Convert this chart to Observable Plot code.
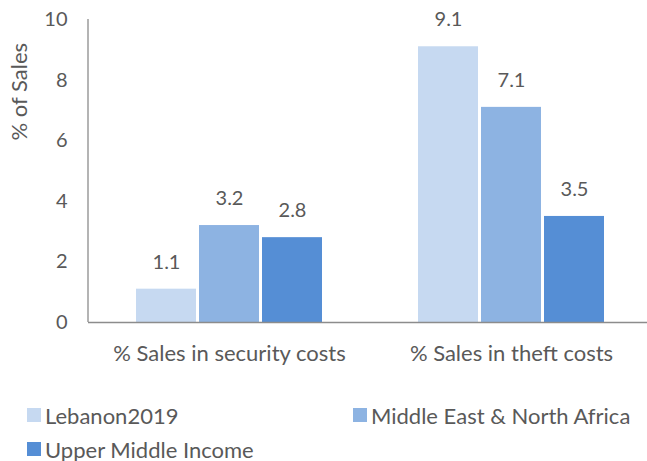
<!DOCTYPE html>
<html>
<head>
<meta charset="utf-8">
<script src="https://cdn.jsdelivr.net/npm/d3@7"></script>
<script src="https://cdn.jsdelivr.net/npm/@observablehq/plot@0.6"></script>
<style>
  body { margin: 0; background: #fff; font-family: Lato, "Open Sans", sans-serif; }
  #wrap { position: relative; width: 647px; height: 461px; overflow: hidden; }
  #legend { position: absolute; left: 0; top: 0; width: 647px; }
  .li { position: absolute; font-size: 22px; color: #595959; white-space: nowrap; display: flex; align-items: center; height: 14px; }
  .sw { width: 14px; height: 14px; margin-right: 4px; display: inline-block; flex: none; }
</style>
</head>
<body>
<div id="wrap"><div id="chart"></div><div id="legend"></div></div>
<script>
const categories = ["% Sales in security costs", "% Sales in theft costs"];
const series = ["Lebanon2019", "Middle East & North Africa", "Upper Middle Income"];
const lebanon = [1.1, 9.1];
const mena = [3.2, 7.1];
const umi = [2.8, 3.5];
const colors = ["#c6d9f1", "#8db3e2", "#558ed5"];
const yTicks = [0, 2, 4, 6, 8, 10];

const values = [lebanon, mena, umi];
const data = [];
categories.forEach((c, ci) => series.forEach((s, si) => data.push({cat: c, series: s, value: values[si][ci]})));

const chart = Plot.plot({
  width: 647,
  height: 380,
  marginLeft: 88,
  marginRight: -5,
  marginTop: 19,
  marginBottom: 58,
  style: {fontFamily: "Lato, 'Open Sans', sans-serif", fontSize: "20px", color: "#595959", background: "transparent"},
  fx: {domain: categories, padding: 0, label: null, axis: null},
  x: {domain: series, axis: null, paddingInner: 0.047, paddingOuter: 0.727},
  y: {domain: [0, 10], label: null},
  color: {domain: series, range: colors},
  marks: [
    Plot.axisY(yTicks, {tickSize: 0, tickPadding: 21, fontSize: 20, fill: "#595959", label: null, tickFormat: d => d}),
    Plot.axisFx({anchor: "bottom", tickSize: 0, tickPadding: 23, fontSize: 22, fill: "#595959", label: null}),
    Plot.barY(data, {fx: "cat", x: "series", y: "value", fill: "series"}),
    Plot.ruleY([0], {stroke: "#8c8c8c", strokeWidth: 1.3}),
    Plot.text(data, {fx: "cat", x: "series", y: "value", text: d => d.value.toFixed(1), dy: -27, fill: "#595959", fontSize: 20})
  ]
});
document.getElementById("chart").appendChild(chart);

// y axis line and title
const ys = chart.scale("y");
const svg = d3.select(chart);
svg.append("line")
  .attr("x1", 88).attr("x2", 88)
  .attr("y1", ys.apply(10)).attr("y2", ys.apply(0))
  .attr("stroke", "#8c8c8c").attr("stroke-width", 1.3);
svg.append("text")
  .attr("transform", `translate(19,${ys.apply(7.6)}) rotate(-90)`)
  .attr("text-anchor", "middle")
  .attr("dy", "0.35em")
  .attr("fill", "#595959")
  .style("font-size", "22px")
  .text("% of Sales");

// legend
const pos = [[27, 408], [353, 408], [27, 442]];
const lg = document.getElementById("legend");
series.forEach((s, i) => {
  const d = document.createElement("div");
  d.className = "li";
  d.style.left = pos[i][0] + "px";
  d.style.top = pos[i][1] + "px";
  d.innerHTML = `<span class="sw" style="background:${colors[i]}"></span>`;
  d.appendChild(document.createTextNode(s));
  lg.appendChild(d);
});
</script>
</body>
</html>
